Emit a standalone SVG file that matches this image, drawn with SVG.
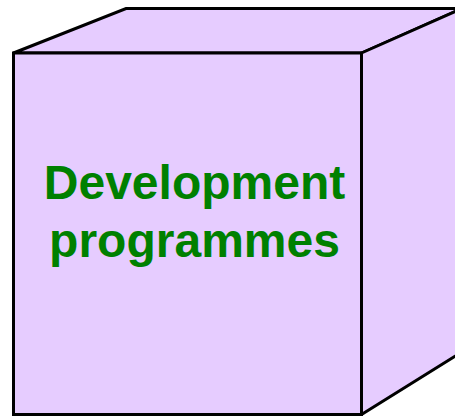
<svg xmlns="http://www.w3.org/2000/svg" width="455" height="416" viewBox="0 0 455 416">
<style>
.face{fill:#E6CCFF;stroke:#000;stroke-width:3;stroke-linejoin:miter}
.lbl{font-family:"Liberation Sans",Arial,sans-serif;font-weight:bold;font-size:48px;fill:#008000;text-anchor:middle}
</style>
<rect width="455" height="416" fill="#fff"/>
<g id="cube">
<polygon class="face" points="13.5,53 126,8.5 462,8.5 361.5,53"/>
<polygon class="face" points="361.5,53 462,8.5 462,352 361.5,414.5"/>
<rect class="face" x="13.5" y="53" width="348" height="361.5"/>
<text class="lbl" x="194.5" y="199">Development</text>
<text class="lbl" x="194.5" y="257">programmes</text>
</g>
<g id="connectors"/>
</svg>
